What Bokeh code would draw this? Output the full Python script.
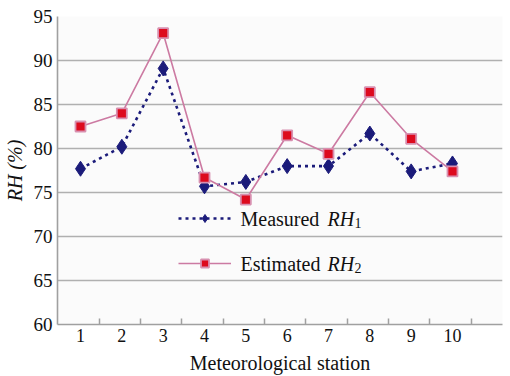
from bokeh.plotting import figure
from bokeh.models import (ColumnDataSource, FixedTicker, Range1d, Legend, LegendItem, Label)
from bokeh.embed import file_html
from bokeh.resources import INLINE

stations = [1, 2, 3, 4, 5, 6, 7, 8, 9, 10]
measured = [77.7, 80.2, 89.1, 75.7, 76.2, 78.0, 78.0, 81.7, 77.4, 78.3]
estimated = [82.5, 84.0, 93.1, 76.7, 74.2, 81.5, 79.4, 86.4, 81.1, 77.4]
y_ticks = [60, 65, 70, 75, 80, 85, 90, 95]

src = ColumnDataSource(dict(x=stations, m=measured, e=estimated))

FONT = "Liberation Serif"
p = figure(width=510, height=376, output_backend="svg", toolbar_location=None,
           x_range=Range1d(0.4435, 11.21), y_range=Range1d(60, 95),
           min_border_left=57, min_border_top=16, min_border_right=8, min_border_bottom=52)
p.outline_line_color = None
p.background_fill_color = "#fbfbfb"
p.border_fill_color = "white"

p.xgrid.visible = False
p.ygrid.ticker = FixedTicker(ticks=y_ticks)
p.ygrid.grid_line_color = "#b0b0b0"
p.ygrid.grid_line_width = 1.6

xa = p.xaxis[0]
xa.ticker = FixedTicker(ticks=stations, minor_ticks=[s + 0.45 for s in stations])
xa.major_tick_in = 0
xa.major_tick_out = 0
xa.minor_tick_in = 6
xa.minor_tick_out = 0
xa.minor_tick_line_color = "#a0a0a0"
xa.minor_tick_line_width = 1.5
xa.axis_line_color = "#a0a0a0"
xa.axis_line_width = 1.6
xa.major_label_text_font = FONT
xa.major_label_text_font_size = "18px"
xa.major_label_text_color = "#111111"
xa.major_label_standoff = 4
xa.axis_label = "Meteorological station"
xa.axis_label_text_font = FONT
xa.axis_label_text_font_size = "20px"
xa.axis_label_text_font_style = "normal"
xa.axis_label_text_color = "#111111"
xa.axis_label_standoff = 7

ya = p.yaxis[0]
ya.ticker = FixedTicker(ticks=y_ticks)
ya.major_tick_in = 0
ya.major_tick_out = 0
ya.minor_tick_line_color = None
ya.axis_line_color = "#a0a0a0"
ya.axis_line_width = 1.6
ya.major_label_text_font = FONT
ya.major_label_text_font_size = "19px"
ya.major_label_text_color = "#111111"
ya.major_label_standoff = 5
ya.axis_label = "RH (%)"
ya.axis_label_text_font = FONT
ya.axis_label_text_font_size = "20px"
ya.axis_label_text_font_style = "italic"
ya.axis_label_text_color = "#111111"
ya.axis_label_standoff = 5

NAVY = "#1b1b7a"
PINK = "#cc7aa2"
RED = "#dd0a1e"

lm = p.line("x", "m", source=src, line_color=NAVY, line_width=2.6, line_dash="3 4")
sm = p.scatter("x", "m", source=src, marker="diamond", size=15, fill_color=NAVY, line_color=NAVY)
le = p.line("x", "e", source=src, line_color=PINK, line_width=1.6)
se = p.scatter("x", "e", source=src, marker="square", size=10, fill_color=RED,
               line_color="#d890b0", line_width=1.8)

legend = Legend(items=[LegendItem(label=" ", renderers=[lm, sm]),
                       LegendItem(label=" ", renderers=[le, se])],
                location=(121, 51), padding=0, margin=0, spacing=25,
                glyph_width=53, glyph_height=20, label_height=20, label_width=10,
                border_line_alpha=0, background_fill_alpha=0)
p.add_layout(legend, "center")

def lab(text, x, y, size="20px", style="normal"):
    # screen units measured from the frame's bottom-left corner
    p.add_layout(Label(x=x, y=y, x_units="screen", y_units="screen", text=text,
                       text_font=FONT, text_font_size=size, text_font_style=style,
                       text_color="#111111", text_baseline="middle", text_align="left"))

# legend texts
lab("Measured", 183, 106)
lab("RH", 270, 106, style="italic")
lab("1", 297, 102, size="14px")
lab("Estimated", 183, 61)
lab("RH", 270, 61, style="italic")
lab("2", 297, 57, size="14px")

open("out.html", "w").write(file_html(p, INLINE))
